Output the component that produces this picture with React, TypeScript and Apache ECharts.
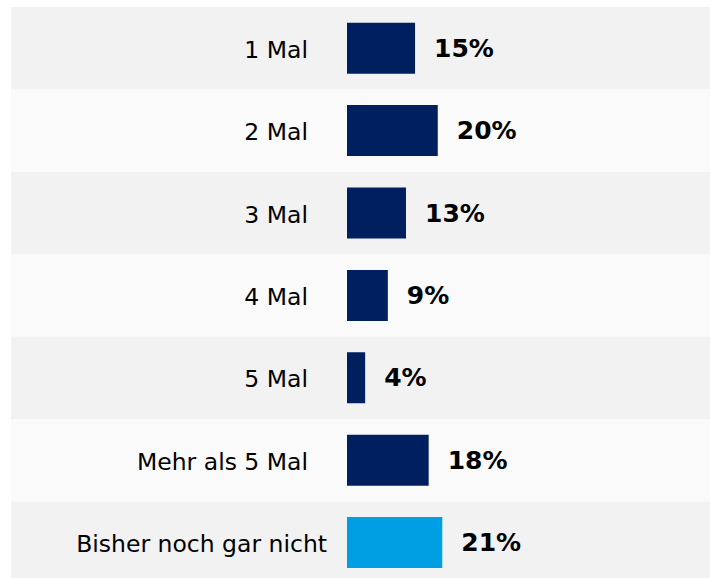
import React, { useEffect, useRef } from "react";
import * as echarts from "echarts";

const categories = ["1 Mal", "2 Mal", "3 Mal", "4 Mal", "5 Mal", "Mehr als 5 Mal", "Bisher noch gar nicht"];
const values = [15, 20, 13, 9, 4, 18, 21];
const barColors = ["#001f5e", "#001f5e", "#001f5e", "#001f5e", "#001f5e", "#001f5e", "#009fe3"];
const rowColors = ["#f2f2f2", "#fafafa"];

export default function App() {
  const ref = useRef<HTMLDivElement>(null);
  useEffect(() => {
    document.body.style.margin = "0";
    document.body.style.overflow = "hidden";
    const chart = echarts.init(ref.current!, null, { renderer: "svg" });
    const top = 7;
    const h = 82.4 * categories.length;
    const font = "'DejaVu Sans', Verdana, sans-serif";
    chart.setOption({
      animation: false,
      backgroundColor: "#ffffff",
      grid: [
        { left: 11, top, width: 699, height: h },
        { left: 347, top, width: 364, height: h },
      ],
      xAxis: [
        { gridIndex: 0, type: "value", min: 0, max: 1, show: false },
        { gridIndex: 1, type: "value", min: 0, max: 80, show: false },
      ],
      yAxis: [
        {
          gridIndex: 0,
          type: "category",
          data: categories,
          inverse: true,
          axisLine: { show: false },
          axisTick: { show: false },
          axisLabel: { show: false },
          splitLine: { show: false },
          splitArea: { show: true, areaStyle: { color: rowColors } },
        },
        {
          gridIndex: 1,
          type: "category",
          data: categories,
          inverse: true,
          axisLine: { show: false },
          axisTick: { show: false },
          splitLine: { show: false },
          axisLabel: {
            margin: 20,
            formatter: (v: string, i: number) =>
              i === categories.length - 1 ? `{b|${v}}` : `{a|${v}}`,
            rich: {
              a: { fontSize: 23.5, fontFamily: font, color: "#000", padding: [3, 19, 0, 0] },
              b: { fontSize: 23.5, fontFamily: font, color: "#000", padding: [3, 0, 0, 0] },
            },
          },
        },
      ],
      series: [
        {
          type: "bar",
          xAxisIndex: 1,
          yAxisIndex: 1,
          barWidth: 51,
          data: values.map((v, i) => ({ value: v, itemStyle: { color: barColors[i] } })),
          label: {
            show: true,
            position: "right",
            distance: 19,
            formatter: "{c}%",
            fontSize: 25,
            fontWeight: "bold",
            fontFamily: font,
            color: "#000",
          },
        },
      ],
    });
    return () => chart.dispose();
  }, []);
  return <div ref={ref} style={{ width: 710, height: 590 }} />;
}
